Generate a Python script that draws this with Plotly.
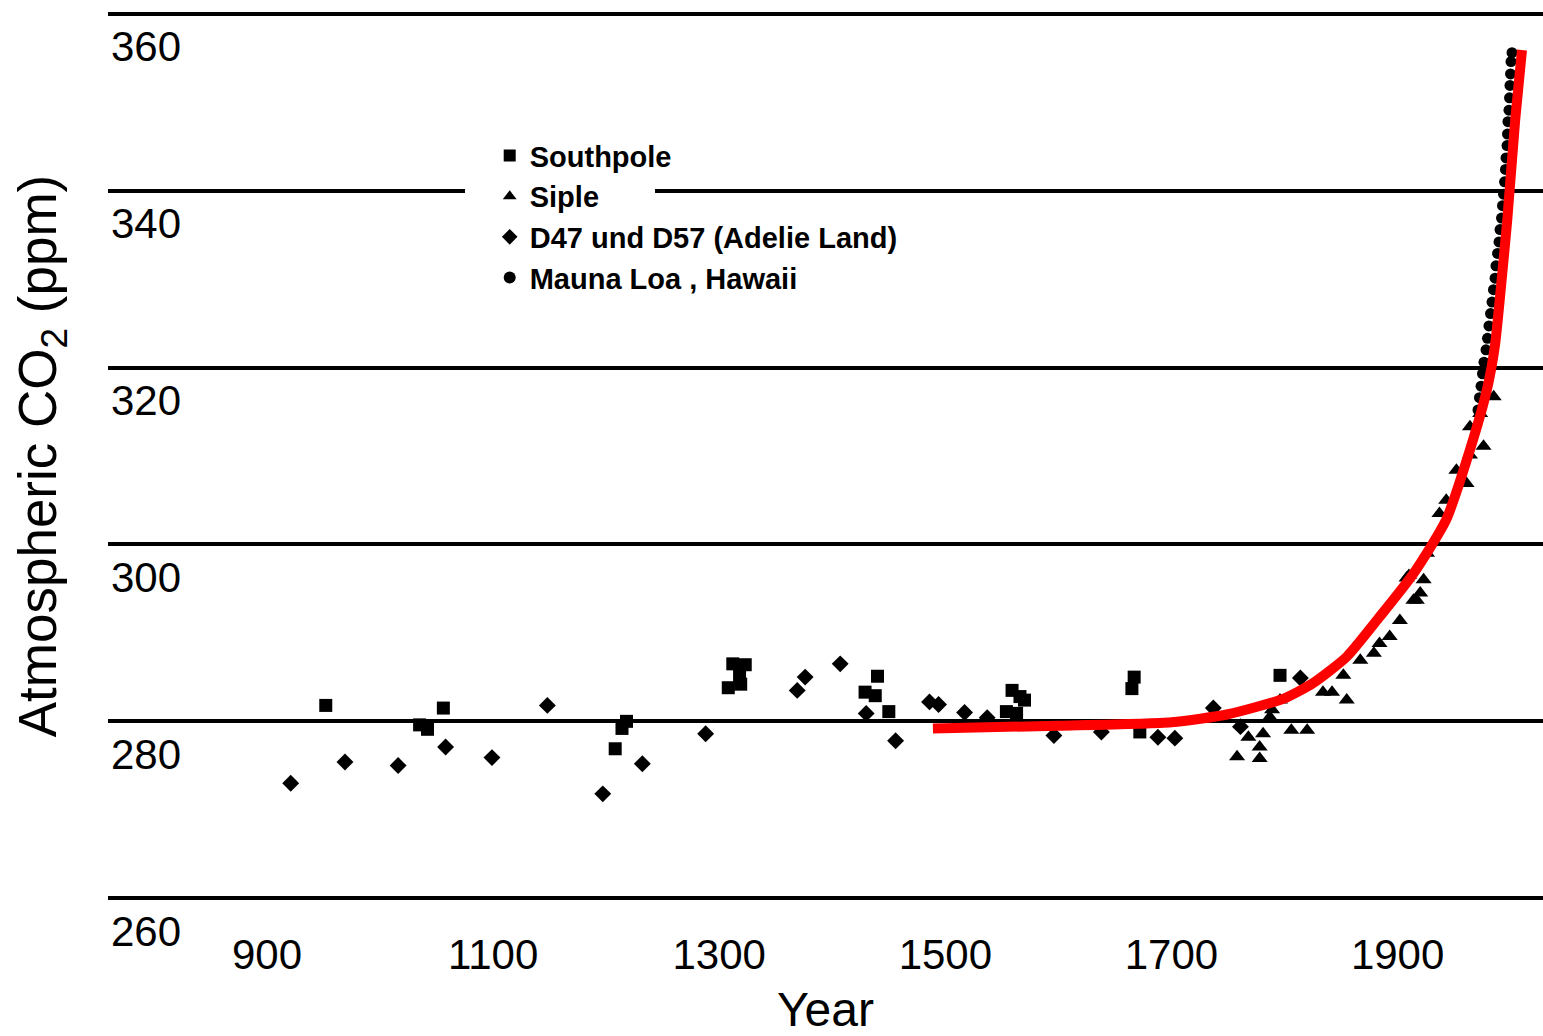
import plotly.graph_objects as go

# ---------------- data ----------------
southpole_year = [952, 1035, 1042, 1056, 1208, 1214, 1218, 1308, 1312, 1318, 1319, 1323,
                  1429, 1438, 1440, 1450, 1554, 1559, 1563, 1566, 1570, 1665, 1667, 1672, 1796]
southpole_ppm = [281.8, 279.6, 279.1, 281.5, 276.9, 279.2, 280.0, 283.8, 286.5, 285.1, 284.2, 286.4,
                 283.3, 282.9, 285.1, 281.1, 281.1, 283.5, 280.9, 282.8, 282.4, 283.7, 285.0, 278.8, 285.2]

siple_year = [1758, 1768, 1778, 1778, 1781, 1787, 1789, 1796, 1806, 1820, 1834, 1842, 1852, 1855,
              1867, 1879, 1884, 1893, 1902, 1908, 1910, 1914, 1917, 1920, 1923, 1926, 1937, 1943,
              1952, 1961, 1964, 1964, 1973, 1976, 1985]
siple_ppm = [276.0, 278.2, 275.8, 277.1, 278.6, 280.5, 281.3, 282.4, 279.0, 279.0, 283.3, 283.3, 285.2, 282.4,
             286.9, 287.7, 288.8, 289.6, 291.4, 296.2, 296.5, 293.7, 293.7, 294.5, 296.0, 299.0, 303.5, 305.0,
             308.4, 306.9, 310.1, 313.3, 314.8, 311.1, 316.7]

d47_year = [921, 969, 1016, 1058, 1099, 1148, 1197, 1232, 1288, 1369, 1376, 1407, 1430, 1456,
            1486, 1494, 1517, 1537, 1596, 1638, 1688, 1703, 1737, 1761, 1814]
d47_ppm = [273.0, 275.4, 275.0, 277.1, 275.9, 281.8, 271.8, 275.2, 278.6, 283.5, 285.0, 286.5, 280.9, 277.8,
           282.2, 281.9, 281.0, 280.4, 278.4, 278.8, 278.2, 278.1, 281.5, 279.4, 284.9]

mauna_year = [1971.1, 1972.4, 1973.8, 1975.1, 1976.4, 1978.2, 1979.5, 1980.8, 1982.2, 1983.5,
              1984.8, 1986.2, 1987.0, 1988.4, 1989.7, 1990.6, 1991.9, 1992.8, 1993.7, 1994.6,
              1995.4, 1995.9, 1996.8, 1997.2, 1997.6, 1998.5, 1999.0, 1999.4, 1999.9, 2000.3, 2001.2]
mauna_ppm = [315.2, 316.6, 317.9, 319.3, 320.6, 322.0, 323.3, 324.7, 326.1, 327.4,
             328.8, 330.1, 331.5, 332.9, 334.2, 335.6, 336.9, 338.3, 339.6, 341.0,
             342.4, 343.7, 345.1, 346.4, 347.8, 349.1, 350.5, 351.9, 353.2, 354.6, 355.6]

fit_year = [1489, 1600, 1700, 1750, 1800, 1825, 1855, 1884, 1914, 1943, 1964,
            1979, 1986, 1992, 1997, 2004, 2010]
fit_ppm = [279.2, 279.5, 279.9, 280.8, 282.6, 284.3, 287.3, 291.8, 296.7, 302.8, 310.7,
           317.5, 322.4, 329.9, 336.7, 348.0, 355.9]

x_ticks = [900, 1100, 1300, 1500, 1700, 1900]
y_ticks = [260, 280, 300, 320, 340, 360]

series_names = ["Southpole", "Siple", "D47 und D57 (Adelie Land)", "Mauna Loa , Hawaii"]

FONT = "Liberation Sans, Arial, Helvetica, sans-serif"

fig = go.Figure()
fig.add_trace(go.Scatter(x=southpole_year, y=southpole_ppm, mode="markers", name=series_names[0],
                         marker=dict(symbol="square", size=13, color="black")))
fig.add_trace(go.Scatter(x=siple_year, y=siple_ppm, mode="markers", name=series_names[1],
                         marker=dict(symbol="triangle-up", size=14, color="black")))
fig.add_trace(go.Scatter(x=d47_year, y=d47_ppm, mode="markers", name=series_names[2],
                         marker=dict(symbol="diamond", size=13, color="black")))
fig.add_trace(go.Scatter(x=mauna_year, y=mauna_ppm, mode="markers", name=series_names[3],
                         marker=dict(symbol="circle", size=11, color="black")))
fig.add_trace(go.Scatter(x=fit_year, y=fit_ppm, mode="lines", showlegend=False,
                         line=dict(color="#ff0000", width=10, shape="spline", smoothing=0.6)))

fig.update_layout(
    width=1543, height=1036,
    margin=dict(l=108, r=0, t=12, b=136),
    paper_bgcolor="white", plot_bgcolor="white",
    font=dict(family=FONT, color="black"),
    showlegend=True,
    legend=dict(x=0.266, y=0.867, xanchor="left", yanchor="top",
                bgcolor="rgba(0,0,0,0)", itemsizing="constant", itemwidth=30,
                font=dict(size=29, family=FONT, weight="bold")),
    shapes=[dict(type="rect", xref="paper", yref="paper", x0=0.2488, x1=0.3812, y0=0.794, y1=0.808,
                 fillcolor="white", line=dict(width=0), layer="above")],
)

fig.update_xaxes(range=[759.4, 2028.6], tickvals=x_ticks, ticktext=[str(v) for v in x_ticks],
                 showgrid=False, zeroline=False, showline=False, ticks="",
                 ticklabelstandoff=26,
                 tickfont=dict(size=42, family=FONT),
                 title=dict(text="Year", font=dict(size=48, family=FONT), standoff=20))
fig.update_yaxes(range=[259.8, 360.2], tickvals=y_ticks, ticktext=[str(v) for v in y_ticks],
                 showgrid=True, gridcolor="black", gridwidth=4, zeroline=False, showline=False,
                 ticks="", ticklabelposition="outside", ticklabelstandoff=-74, ticklabelshift=33,
                 tickfont=dict(size=42, family=FONT),
                 title=dict(text="Atmospheric CO<sub>2</sub> (ppm)", font=dict(size=53, family=FONT),
                            standoff=37))

fig.write_html("out.html", config={"displayModeBar": False},
               post_script="document.body.style.margin='0';")
